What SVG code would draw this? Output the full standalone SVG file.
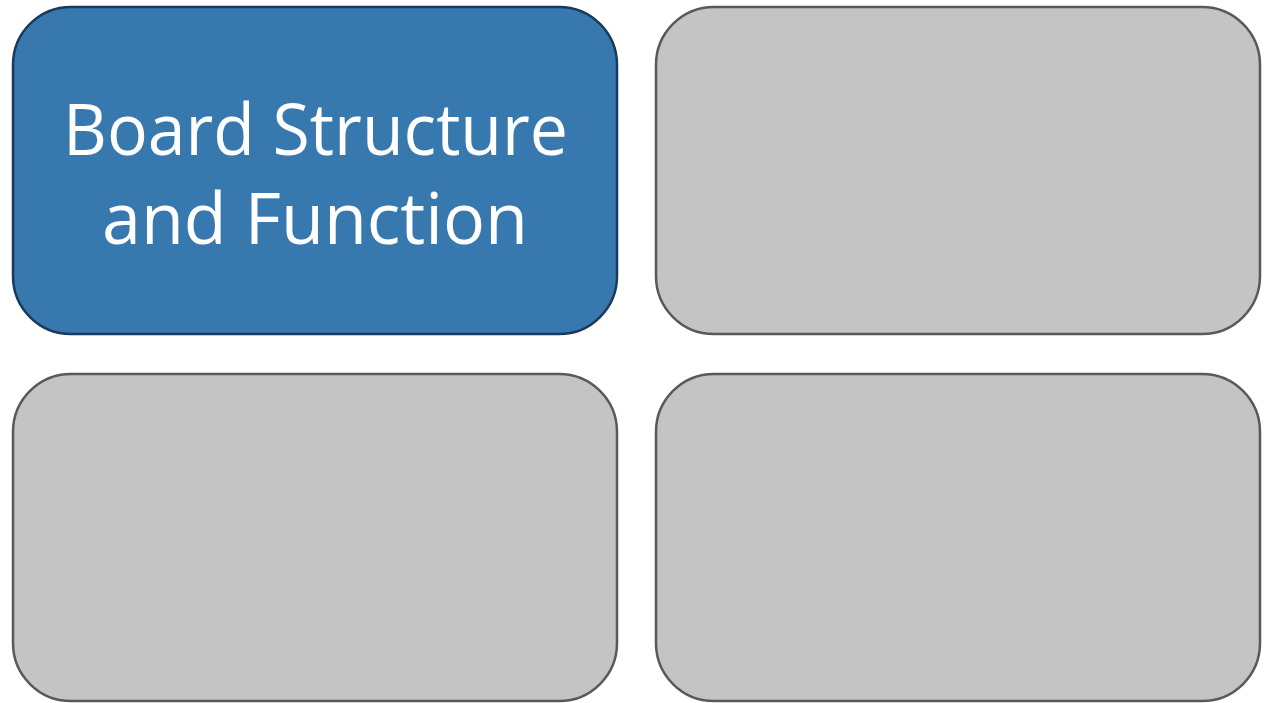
<svg xmlns="http://www.w3.org/2000/svg" width="1271" height="703" viewBox="0 0 1271 703">
<style>
.box{stroke-width:2.5}
.blue{fill:#3778ae;stroke:#1a3a5c}
.grey{fill:#c4c4c4;stroke:#595959}
.lbl{font-family:"Open Sans","Noto Sans",sans-serif;font-size:72px;fill:#ffffff;text-anchor:middle}
</style>
<rect width="1271" height="703" fill="#ffffff"/>
<g id="node-board">
<rect class="box blue" x="13" y="7" width="604" height="327" rx="58" ry="58"/>
<text class="lbl" x="315.5" y="155" textLength="505" lengthAdjust="spacingAndGlyphs">Board Structure</text>
<text class="lbl" x="315" y="244" textLength="426" lengthAdjust="spacingAndGlyphs">and Function</text>
</g>
<g id="node-top-right">
<rect class="box grey" x="656" y="7" width="604" height="327" rx="58" ry="58"/>
</g>
<g id="node-bottom-left">
<rect class="box grey" x="13" y="374" width="604" height="327" rx="58" ry="58"/>
</g>
<g id="node-bottom-right">
<rect class="box grey" x="656" y="374" width="604" height="327" rx="58" ry="58"/>
</g>
<g id="connectors"></g>
</svg>
